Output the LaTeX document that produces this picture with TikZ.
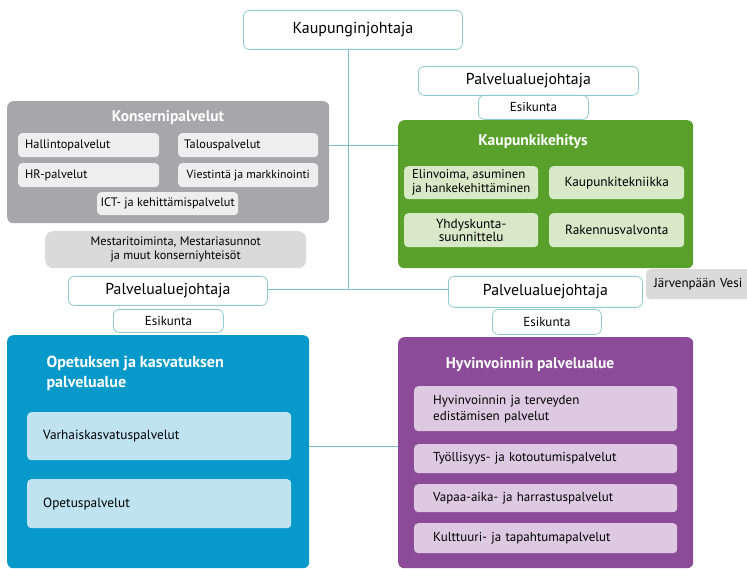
\documentclass[tikz,border=0pt]{standalone}
\usepackage{fontspec}
\setmainfont{PT Sans}
\definecolor{lineC}{HTML}{7DBFC8}
\definecolor{bordC}{HTML}{8FC9D0}
\definecolor{greyC}{HTML}{A7A7A9}
\definecolor{greyIn}{HTML}{EEEEEE}
\definecolor{greyMid}{HTML}{DADADA}
\definecolor{greenC}{HTML}{5AA12C}
\definecolor{greenIn}{HTML}{D7E9C7}
\definecolor{blueC}{HTML}{0899CB}
\definecolor{blueIn}{HTML}{BFE3F1}
\definecolor{purpleC}{HTML}{8B4B99}
\definecolor{purpleIn}{HTML}{DDC9E2}
\begin{document}
\begin{tikzpicture}[x=1pt,y=-1pt,
  base/.style={anchor=north west, rounded corners=4pt, inner sep=0pt, align=center},
  lead/.style={base, draw=bordC, line width=0.8pt, fill=white, rounded corners=6pt},
  cont/.style={base, rounded corners=6pt},
  title/.style={text=white, font=\fontsize{15.5}{17}\selectfont\bfseries},
  small/.style={base, font=\fontsize{12.3}{13.5}\selectfont},
  gsmall/.style={base, fill=greenIn, font=\fontsize{13.3}{13.5}\selectfont},
  psmall/.style={base, fill=purpleIn, minimum width=263pt, text width=225pt, align=left, inner xsep=19pt, font=\fontsize{13}{16}\selectfont},
  bsmall/.style={base, fill=blueIn, minimum width=264pt, text width=232pt, align=left, inner xsep=16pt, font=\fontsize{13.3}{15}\selectfont},
  conn/.style={draw=lineC, line width=0.9pt}
]
\useasboundingbox (0,0) rectangle (747,569);

% leaders
\node[lead, minimum width=219pt, minimum height=39pt, font=\fontsize{16}{18}\selectfont] (kj) at (243,10) {Kaupunginjohtaja};
\node[lead, minimum width=220pt, minimum height=29pt, font=\fontsize{15.8}{17}\selectfont] (tpj) at (418,66) {Palvelualuejohtaja};
\node[lead, minimum width=110pt, minimum height=24pt, font=\fontsize{13}{14}\selectfont] (tes) at (478,95) {Esikunta};

% Konsernipalvelut
\node[cont, fill=greyC, minimum width=322pt, minimum height=122pt] (kons) at (7,101) {};
\node[title] (konsT) at (168,118) {Konsernipalvelut};
\node[small, fill=greyIn, minimum width=141pt, minimum height=24pt, text width=127pt, align=left, inner xsep=7pt] (hal) at (18,133) {Hallintopalvelut};
\node[small, fill=greyIn, minimum width=140pt, minimum height=24pt, text width=128pt, align=left, inner xsep=6pt] (tal) at (178,133) {Talouspalvelut};
\node[small, fill=greyIn, minimum width=141pt, minimum height=24pt, text width=127pt, align=left, inner xsep=7pt] (hr) at (18,163) {HR-palvelut};
\node[small, fill=greyIn, minimum width=140pt, minimum height=24pt, font=\fontsize{11.8}{13}\selectfont] (vie) at (178,163) {Viestintä ja markkinointi};
\node[small, fill=greyIn, minimum width=141pt, minimum height=23pt] (ict) at (97,192) {ICT- ja kehittämispalvelut};
\node[small, fill=greyMid, rounded corners=8pt, minimum width=261pt, minimum height=37pt, font=\fontsize{12.3}{14}\selectfont] (mes) at (45,231) {Mestaritoiminta, Mestariasunnot\\ja muut konserniyhteisöt};

% Kaupunkikehitys
\node[cont, fill=greenC, minimum width=295pt, minimum height=148pt] (kk) at (398,120) {};
\node[title] (kkT) at (533,142) {Kaupunkikehitys};
\node[gsmall, minimum width=134pt, minimum height=33pt, font=\fontsize{12.8}{13.3}\selectfont] (eli) at (404,166) {\begin{tabular}{@{}l@{}}Elinvoima, asuminen\\ja hankekehittäminen\end{tabular}};
\node[gsmall, minimum width=135pt, minimum height=33pt] (kte) at (549,166) {Kaupunkitekniikka};
\node[gsmall, minimum width=134pt, minimum height=34pt] (yhd) at (404,213) {Yhdyskunta-\\suunnittelu};
\node[gsmall, minimum width=135pt, minimum height=34pt] (rak) at (549,213) {Rakennusvalvonta};

% Järvenpään Vesi
\node[small, fill=greyMid, minimum width=120pt, minimum height=30pt, text width=106pt, align=left, inner xsep=8pt, font=\fontsize{13}{14}\selectfont] (jv) at (646,269) {Järvenpään Vesi};

% left leader
\node[lead, minimum width=199pt, minimum height=29pt, font=\fontsize{15.8}{17}\selectfont] (lpj) at (68,276) {Palvelualuejohtaja};
\node[lead, minimum width=110pt, minimum height=23pt, font=\fontsize{13}{14}\selectfont] (les) at (113,309) {Esikunta};

% right leader
\node[lead, minimum width=194pt, minimum height=31pt, font=\fontsize{15.8}{17}\selectfont] (rpj) at (448,276) {Palvelualuejohtaja};
\node[lead, minimum width=109pt, minimum height=25pt, font=\fontsize{13}{14}\selectfont] (res) at (492,309) {Esikunta};

% Opetus
\node[cont, fill=blueC, minimum width=302pt, minimum height=233pt] (ope) at (7,335) {};
\node[title, anchor=north west, align=left, font=\fontsize{16}{19.5}\selectfont\bfseries] (opeT) at (43,353) {Opetuksen ja kasvatuksen\\palvelualue};
\node[bsmall, minimum height=48pt] (var) at (27,412) {Varhaiskasvatuspalvelut};
\node[bsmall, minimum height=49pt] (opp) at (27,479) {Opetuspalvelut};

% Hyvinvointi
\node[cont, fill=purpleC, minimum width=295pt, minimum height=231pt] (hyv) at (398,337) {};
\node[title] (hyvT) at (530,365) {Hyvinvoinnin palvelualue};
\node[psmall, minimum height=45pt] (hy1) at (414,386) {Hyvinvoinnin ja terveyden\\edistämisen palvelut};
\node[psmall, minimum height=29pt] (hy2) at (414,444) {Työllisyys- ja kotoutumispalvelut};
\node[psmall, minimum height=28pt] (hy3) at (414,484) {Vapaa-aika- ja harrastuspalvelut};
\node[psmall, minimum height=30pt] (hy4) at (414,523) {Kulttuuri- ja tapahtumapalvelut};

% connectors
\coordinate (j) at (348,289);
\coordinate (k1) at (348,145);
\coordinate (m) at (348,446);
\draw[conn] (kj.south -| j) -- (j);
\draw[conn] (k1 -| kons.east) -- (k1 -| kk.west);
\draw[conn] (j -| lpj.east) -- (j -| rpj.west);
\draw[conn] (m -| ope.east) -- (m -| hyv.west);
\end{tikzpicture}
\end{document}
